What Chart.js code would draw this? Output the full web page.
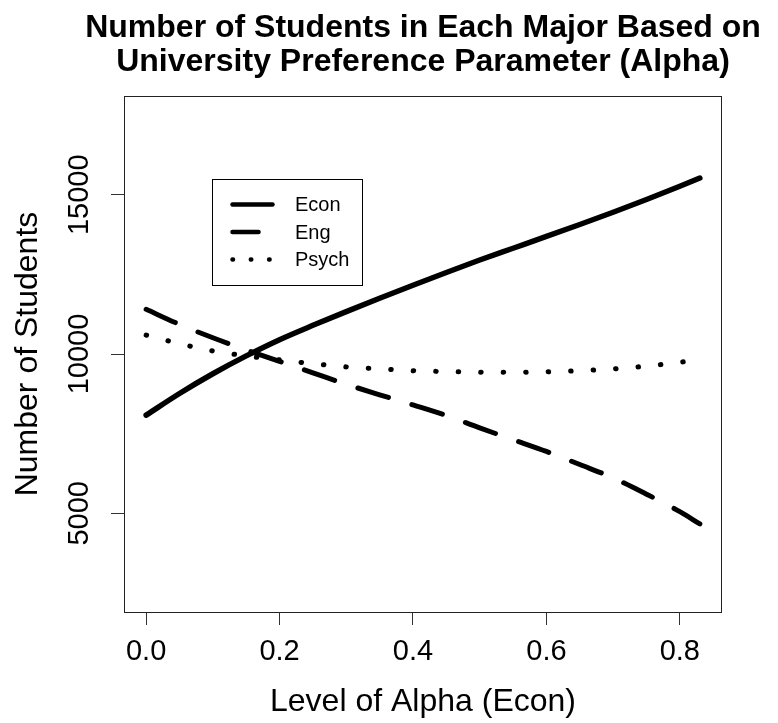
<!DOCTYPE html>
<html>
<head>
<meta charset="utf-8">
<script src="https://cdn.jsdelivr.net/npm/chart.js@4.4.1/dist/chart.umd.min.js"></script>
<style>
  html, body { margin: 0; padding: 0; background: #ffffff; }
  #wrap { width: 778px; height: 723px; }
</style>
</head>
<body>
<div id="wrap"><canvas id="chart" width="778" height="723"></canvas></div>
<script>
// Level of the Econ preference parameter (alpha)
const alphaLevels = [0.00, 0.05, 0.10, 0.15, 0.20, 0.25, 0.30, 0.35, 0.40, 0.45, 0.50, 0.55, 0.60, 0.65, 0.70, 0.75, 0.80, 0.83];
// Number of students per major at each alpha
const econStudents  = [8080, 8760, 9380, 9940, 10450, 10900, 11330, 11750, 12160, 12560, 12950, 13320, 13690, 14065, 14450, 14850, 15265, 15526];
const engStudents   = [11403, 10930, 10510, 10130, 9770, 9410, 9050, 8720, 8400, 8070, 7680, 7310, 6940, 6530, 6110, 5600, 5050, 4666];
const psychStudents = [10594, 10325, 10095, 9940, 9815, 9695, 9595, 9535, 9475, 9448, 9430, 9425, 9439, 9475, 9533, 9620, 9740, 9830];

const xTickValues = [0, 0.2, 0.4, 0.6, 0.8];
const yTickValues = [5000, 10000, 15000];
const seriesNames = ['Econ', 'Eng', 'Psych'];
const titleLines = ['Number of Students in Each Major Based on', 'University Preference Parameter (Alpha)'];

const FONT = '"Liberation Sans", Arial, Helvetica, sans-serif';
Chart.defaults.font.family = FONT;
Chart.defaults.color = '#000000';

const toPoints = (ys) => alphaLevels.map((x, i) => ({ x: x, y: ys[i] }));

// styles for each series: solid, long dash, dotted
const lineStyles = [
  { width: 5.5, dash: [] },
  { width: 5, dash: [32, 24.5] },
  { width: 5, dash: [0.5, 22] }
];

// Framed plot box like a base-graphics plot
const boxPlugin = {
  id: 'plotBox',
  afterDatasetsDraw(chart) {
    const { ctx, chartArea: a } = chart;
    ctx.save();
    ctx.strokeStyle = '#222222';
    ctx.lineWidth = 1;
    ctx.strokeRect(Math.round(a.left) + 0.5, Math.round(a.top) + 0.5,
                   Math.round(a.right - a.left) - 1, Math.round(a.bottom - a.top));
    ctx.restore();
  }
};

// Two-line bold title centred over the plot region
const titlePlugin = {
  id: 'mainTitle',
  afterDraw(chart) {
    const { ctx, chartArea: a } = chart;
    const cx = (a.left + a.right) / 2;
    ctx.save();
    ctx.fillStyle = '#000000';
    ctx.font = 'bold 32px ' + FONT;
    ctx.textAlign = 'center';
    ctx.textBaseline = 'middle';
    ctx.fillText(titleLines[0], cx, 28.5);
    ctx.fillText(titleLines[1], cx, 62.5);
    ctx.restore();
  }
};

// Boxed legend in the upper left of the plot
const legendPlugin = {
  id: 'boxLegend',
  afterDraw(chart) {
    const { ctx } = chart;
    const left = 212.5, top = 179.5, w = 150, h = 106;
    const rows = [204.5, 232, 259.5];
    ctx.save();
    ctx.strokeStyle = '#000000';
    ctx.lineWidth = 1;
    ctx.strokeRect(left, top, w, h);
    const legendDash = [[], [26, 20], [0.5, 17.8]];
    rows.forEach((y, i) => {
      ctx.beginPath();
      ctx.setLineDash(legendDash[i]);
      ctx.lineCap = 'round';
      ctx.lineWidth = 4.5;
      ctx.moveTo(232.5, y);
      ctx.lineTo(272.5, y);
      ctx.stroke();
    });
    ctx.setLineDash([]);
    ctx.fillStyle = '#000000';
    ctx.font = '20px ' + FONT;
    ctx.textAlign = 'left';
    ctx.textBaseline = 'middle';
    rows.forEach((y, i) => ctx.fillText(seriesNames[i], 295, y + 1));
    ctx.restore();
  }
};

const datasets = [econStudents, engStudents, psychStudents].map((ys, i) => ({
  label: seriesNames[i],
  data: toPoints(ys),
  borderColor: '#000000',
  backgroundColor: '#000000',
  borderWidth: lineStyles[i].width,
  borderDash: lineStyles[i].dash,
  borderCapStyle: 'round',
  borderJoinStyle: 'round',
  pointRadius: 0,
  fill: false,
  tension: 0.4,
  cubicInterpolationMode: 'monotone'
}));

new Chart(document.getElementById('chart'), {
  type: 'line',
  data: { datasets },
  plugins: [boxPlugin, titlePlugin, legendPlugin],
  options: {
    responsive: false,
    animation: false,
    devicePixelRatio: 1,
    layout: { padding: { top: 96, right: 56, bottom: 0, left: 0 } },
    plugins: { legend: { display: false }, tooltip: { enabled: false }, title: { display: false } },
    scales: {
      x: {
        type: 'linear',
        min: -0.0332,
        max: 0.8632,
        afterBuildTicks: (s) => { s.ticks = xTickValues.map(v => ({ value: v })); },
        afterFit: (s) => { s.height = 111; },
        border: { display: false },
        grid: { drawOnChartArea: false, drawTicks: true, tickLength: 13, color: '#333333', lineWidth: 1 },
        ticks: {
          font: { size: 29 },
          color: '#000000',
          padding: 10,
          maxRotation: 0,
          callback: (v) => Number(v).toFixed(1)
        },
        title: {
          display: true,
          text: 'Level of Alpha (Econ)',
          font: { size: 32 },
          color: '#000000',
          padding: { top: 0, bottom: 2 }
        }
      },
      y: {
        type: 'linear',
        min: 1900,
        max: 18100,
        afterBuildTicks: (s) => { s.ticks = yTickValues.map(v => ({ value: v })); },
        afterFit: (s) => { s.width = 124; },
        border: { display: false },
        grid: { drawOnChartArea: false, drawTicks: true, tickLength: 13, color: '#333333', lineWidth: 1 },
        ticks: {
          font: { size: 29 },
          color: '#000000',
          padding: -9.5,
          minRotation: 90,
          maxRotation: 90,
          crossAlign: 'center',
          callback: (v) => String(v)
        },
        title: {
          display: true,
          text: 'Number of Students',
          font: { size: 32 },
          color: '#000000',
          padding: { top: 9, bottom: 0 }
        }
      }
    }
  }
});
</script>
</body>
</html>
